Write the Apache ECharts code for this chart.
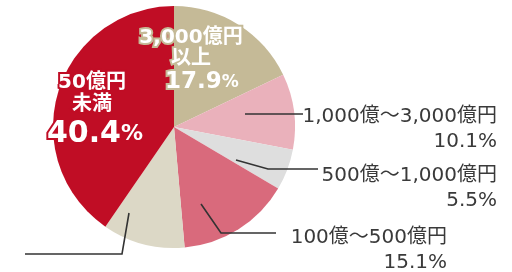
<!DOCTYPE html>
<html>
<head>
<meta charset="utf-8"/>
<title>pie</title>
<script src="https://cdn.jsdelivr.net/npm/echarts@6/dist/echarts.min.js"></script>
<style>
  html, body { margin: 0; padding: 0; background: #fff; }
  #main { width: 512px; height: 272px; }
</style>
</head>
<body>
<div id="main"></div>
<script>
// 売上規模別の構成比（%）
var categories = ['3,000億円以上', '1,000億～3,000億円', '500億～1,000億円', '100億～500億円', '50億～100億円', '50億円未満'];
var shares = [17.9, 10.1, 5.5, 15.1, 11.0, 40.4];
// 表示用の改行入り名前
var labelNames = ['3,000億円\n以上', '1,000億～3,000億円', '500億～1,000億円', '100億～500億円', '', '50億円\n未満'];
var colors = ['#c5ba97', '#eab1bb', '#dedede', '#d96a7c', '#dcd8c6', '#c00d25'];

// ラベル位置と引き出し線（見た目の配置だけ）
var layout = [
    { x: 191, y: 27, align: 'center', inside: true, pad: 22, nl: 21, big: 23, pc: 17, bl: 27 },
    { x: 497, y: 104, align: 'right', line: [[245, 114], [303, 114]] },
    { x: 497, y: 163, align: 'right', line: [[236, 160], [268, 169], [318, 169]] },
    { x: 447, y: 225, align: 'right', line: [[201, 204], [221, 233], [276, 233]] },
    { x: 20, y: 250, align: 'right', line: [[129, 213], [122, 254], [25, 254]] },
    { x: 92, y: 72, align: 'center', inside: true, pad: 6, nl: 22, big: 30, pc: 22, bl: 36 }
];

var font = '"DejaVu Sans", "Noto Sans CJK JP", sans-serif';

function insideRich(L, color) {
    var base = { color: '#fff', fontWeight: 'bold', align: 'center', fontFamily: font,
                 textBorderColor: color, textBorderWidth: 4 };
    return {
        n: Object.assign({ fontSize: 20, lineHeight: L.nl }, base),
        big: Object.assign({ fontSize: L.big, lineHeight: L.bl, padding: [0, 0, 0, L.pad] }, base),
        pc: Object.assign({ fontSize: L.pc, lineHeight: L.bl }, base)
    };
}

var outsideRich = {
    n: { color: '#3a3a3a', fontSize: 20, lineHeight: 25, align: 'right', fontFamily: font },
    p: { color: '#3a3a3a', fontSize: 20, lineHeight: 25, align: 'right', fontFamily: font }
};

var data = categories.map(function (name, i) {
    var L = layout[i];
    var item = {
        name: name,
        value: shares[i],
        itemStyle: { color: colors[i] },
        labelLine: { show: false }
    };
    if (L.inside) {
        item.label = {
            position: 'inside',
            formatter: function (p) {
                var lines = labelNames[p.dataIndex].split('\n');
                return lines.map(function (s) { return '{n|' + s + '}'; }).join('\n') +
                    '\n{big|' + p.value.toFixed(1) + '}{pc|%}';
            },
            rich: insideRich(L, colors[i])
        };
    } else if (labelNames[i]) {
        item.label = {
            position: 'outside',
            formatter: function (p) {
                return '{n|' + labelNames[p.dataIndex] + '}\n{p|' + p.value.toFixed(1) + '%}';
            },
            rich: outsideRich
        };
    } else {
        item.label = { show: false };
    }
    return item;
});

var guides = layout.filter(function (L) { return L.line; }).map(function (L) {
    return {
        type: 'polyline',
        z: 10,
        shape: { points: L.line },
        style: { stroke: '#333', lineWidth: 1.6, fill: null }
    };
});

var myChart = echarts.init(document.getElementById('main'));
var option = {
    animation: false,
    graphic: guides,
    series: [
        {
            type: 'pie',
            center: [174, 127],
            radius: 121,
            startAngle: 90,
            clockwise: true,
            avoidLabelOverlap: false,
            itemStyle: { borderWidth: 0 },
            emphasis: { disabled: true },
            data: data,
            labelLayout: function (params) {
                var L = layout[params.dataIndex];
                return { x: L.x, y: L.y, align: L.align, verticalAlign: 'top' };
            }
        }
    ]
};
myChart.setOption(option);
</script>
</body>
</html>
